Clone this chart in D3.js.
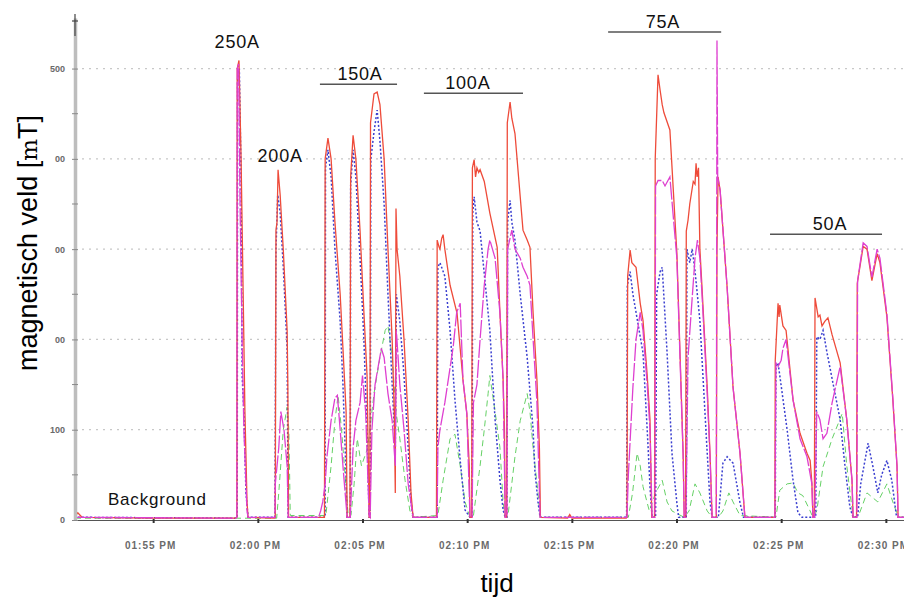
<html>
<head>
<script src="https://d3js.org/d3.v7.min.js"></script>
<style>
  body { margin: 0; background: #fff; }
  text { font-family: Arial, "Liberation Sans", sans-serif; }
  .tick text { fill: #6a6a6a; font-weight: bold; }
</style>
</head>
<body>
<svg width="904" height="600"></svg>
<script>
// time in minutes after 13:00, field in mT
var yTicks = [0, 100, 200, 300, 400, 500];
var yTickLabels = ["0", "100", "00", "00", "00", "500"];

var red = [
[51.27,4],[51.4,8],[51.6,3],[55,2],[58.9,2],
[59.0,3],[59.02,500],[59.10,509],[59.20,400],[59.30,250],[59.39,120],[59.49,20],[59.53,3],
[60.8,2],
[60.84,3],[60.86,321],[60.92,330],[60.97,388],[61.06,360],[61.21,299],[61.40,210],[61.44,150],[61.46,3],
[63.19,3],
[63.22,400],[63.35,423],[63.50,400],[63.69,330],[63.93,250],[64.07,190],[64.21,120],[64.26,3],
[64.40,3],[64.43,380],[64.55,426],[64.69,400],[64.88,320],[65.07,230],[65.22,160],[65.31,3],
[65.35,3],[65.38,440],[65.55,472],[65.70,474],[65.84,460],[66.03,400],[66.22,300],[66.41,200],[66.51,120],[66.56,30],
[66.60,345],[66.65,300],[66.79,270],[66.98,200],[67.18,110],[67.32,30],[67.41,3],
[68.54,3],
[68.57,310],[68.65,303],[68.70,300],[68.78,312],[68.85,316],[68.94,300],[69.18,260],[69.52,229],[69.80,155],[69.99,118],[70.10,60],[70.14,3],
[70.22,3],[70.25,390],[70.33,399],[70.40,380],[70.47,390],[70.55,385],[70.61,388],[70.81,375],[71.09,340],[71.43,302],[71.57,229],[71.71,155],[71.79,100],[71.81,3],
[71.88,3],[71.92,440],[72.05,463],[72.14,445],[72.29,428],[72.53,358],[72.67,321],[72.86,310],[73.00,302],[73.15,229],[73.34,155],[73.45,80],[73.50,3],
[74.8,2],[74.9,6],[75.0,2],
[77.6,2],
[77.64,3],[77.66,270],[77.78,299],[77.87,285],[78.07,280],[78.26,240],[78.40,221],[78.60,160],[78.73,111],[78.82,3],
[78.95,3],[78.98,400],[79.11,493],[79.21,476],[79.31,460],[79.40,451],[79.69,432],[80.02,296],[80.17,185],[80.31,74],[80.36,3],
[80.44,3],[80.47,320],[80.55,332],[80.64,350],[80.80,375],[80.88,372],[80.94,395],[80.98,380],[81.05,390],[81.12,300],[81.22,258],[81.46,147],[81.60,74],[81.70,3],
[81.90,3],[81.93,300],[81.98,380],[82.08,365],[82.41,258],[82.70,147],[83.03,74],[83.27,3],
[84.68,3],
[84.70,3],[84.72,177],[84.85,240],[84.90,225],[84.94,238],[85.09,215],[85.23,210],[85.56,133],[85.90,96],[86.23,74],[86.38,66],[86.47,41],[86.52,3],
[86.58,3],[86.61,246],[86.76,225],[86.85,227],[86.95,215],[87.09,220],[87.24,224],[87.43,205],[87.81,174],[88.14,111],[88.38,44],[88.43,3],
[88.60,3],[88.64,262],[88.91,303],[89.10,300],[89.34,265],[89.58,295],[89.72,285],[90.05,225],[90.34,133],[90.53,59],[90.58,3],
[90.9,3]
];

var blue = [
[51.27,6],[51.4,3],[58.9,2],
[59.01,3],[59.03,490],[59.12,500],[59.20,380],[59.25,160],[59.34,120],[59.44,30],[59.53,3],
[60.82,3],[60.86,300],[60.95,360],[61.06,340],[61.21,280],[61.40,190],[61.45,3],
[63.21,3],[63.24,390],[63.35,410],[63.50,380],[63.69,300],[63.93,220],[64.07,150],[64.20,60],[64.26,3],
[64.41,3],[64.44,370],[64.55,410],[64.69,380],[64.88,290],[65.07,200],[65.22,100],[65.31,3],
[65.36,3],[65.40,400],[65.55,430],[65.70,454],[65.84,420],[66.03,350],[66.22,250],[66.41,150],[66.56,80],
[66.62,250],[66.79,220],[66.98,160],[67.18,80],[67.32,20],[67.41,3],
[68.56,3],[68.60,280],[68.70,285],[68.94,270],[69.18,210],[69.42,133],[69.66,66],[69.90,11],[70.14,3],
[70.23,3],[70.26,340],[70.33,358],[70.47,330],[70.61,320],[71.09,210],[71.33,111],[71.57,44],[71.71,11],[71.81,3],
[71.90,3],[71.94,330],[72.05,354],[72.14,330],[72.29,310],[72.53,250],[72.86,180],[73.15,100],[73.24,55],[73.39,20],[73.48,3],
[77.62,3],[77.65,260],[77.78,275],[77.92,250],[78.07,230],[78.40,185],[78.60,100],[78.73,37],[78.83,3],
[79.00,3],[79.05,250],[79.21,275],[79.31,280],[79.55,185],[79.78,74],[80.02,19],[80.10,3],
[80.47,3],[80.50,300],[80.64,285],[80.75,300],[80.88,276],[81.12,221],[81.46,74],[81.60,20],[81.70,3],
[82.00,3],[82.22,63],[82.41,70],[82.70,63],[83.03,19],[83.20,3],
[84.72,3],[84.75,170],[84.85,174],[84.94,160],[85.28,100],[85.56,44],[85.80,8],[86.0,3],
[86.65,3],[86.70,203],[86.85,200],[87.00,210],[87.19,186],[87.81,111],[88.05,59],[88.29,14],[88.43,3],
[88.65,3],[88.80,40],[89.15,85],[89.39,59],[89.62,30],[89.80,50],[90.05,66],[90.29,44],[90.50,5],[90.6,3],[90.9,3]
];

var magenta = [
[51.27,3],[58.95,2],
[59.00,3],[59.01,500],[59.08,505],[59.15,350],[59.25,200],[59.34,100],[59.49,10],[59.53,3],
[60.82,3],[60.84,40],[60.92,60],[61.00,80],[61.10,120],[61.25,100],[61.40,60],[61.45,3],
[62.9,3],[63.0,10],[63.10,20],[63.21,40],[63.30,70],[63.50,110],[63.69,135],[63.80,138],[63.93,100],[64.10,50],[64.26,3],
[64.41,3],[64.55,80],[64.69,110],[64.88,130],[65.00,160],[65.15,120],[65.31,5],
[65.36,3],[65.45,100],[65.60,150],[65.75,170],[65.90,190],[66.03,180],[66.22,140],[66.41,110],[66.56,60],[66.62,210],[66.79,150],[66.98,100],[67.18,40],[67.41,3],
[68.56,3],[68.60,80],[68.70,100],[68.94,130],[69.33,192],[69.50,230],[69.66,240],[69.80,155],[69.99,118],[70.14,3],
[70.23,3],[70.30,130],[70.47,150],[70.61,200],[70.81,260],[71.00,300],[71.09,310],[71.33,290],[71.57,229],[71.71,155],[71.81,3],
[71.90,3],[71.94,300],[72.14,321],[72.29,300],[72.53,290],[72.67,280],[72.86,270],[73.00,260],[73.15,200],[73.34,130],[73.48,3],
[77.64,3],[77.70,50],[77.92,147],[78.07,200],[78.26,230],[78.40,210],[78.60,150],[78.73,100],[78.83,3],
[78.97,3],[79.00,370],[79.11,376],[79.31,376],[79.45,370],[79.69,380],[80.02,290],[80.17,180],[80.31,70],[80.36,3],
[80.45,3],[80.55,180],[80.70,230],[80.88,290],[81.00,310],[81.12,290],[81.22,250],[81.46,140],[81.60,70],[81.70,3],
[81.90,3],[81.93,531],[81.97,380],[82.08,365],[82.41,258],[82.70,147],[83.03,74],[83.27,3],
[84.70,3],[84.75,174],[84.85,170],[85.00,177],[85.09,190],[85.23,200],[85.56,133],[85.90,90],[86.23,70],[86.47,40],[86.52,3],
[86.60,3],[86.70,120],[86.85,111],[87.00,90],[87.19,96],[87.43,130],[87.81,170],[88.14,111],[88.38,44],[88.43,3],
[88.62,3],[88.65,265],[88.91,307],[89.10,303],[89.34,269],[89.58,300],[89.72,290],[90.05,228],[90.34,135],[90.53,60],[90.58,3],
[90.9,3]
];

var green = [
[51.27,2],[60.9,2],[61.0,30],[61.21,100],[61.40,125],[61.49,100],[61.55,5],
[63.25,5],[63.50,60],[63.69,110],[63.83,138],[64.00,100],[64.20,40],[64.31,5],
[64.45,5],[64.60,40],[64.75,90],[64.95,60],[65.10,70],[65.25,80],[65.35,100],[65.55,140],[65.84,180],[66.08,210],[66.22,215],[66.41,180],[66.60,120],[66.79,90],[67.03,44],[67.27,10],[67.41,3],
[68.60,5],[68.85,44],[69.18,90],[69.42,95],[69.66,60],[69.90,20],[70.14,3],
[70.30,5],[70.61,60],[70.81,100],[71.00,140],[71.09,160],[71.33,120],[71.57,80],[71.71,20],[71.81,3],
[71.95,5],[72.29,70],[72.53,110],[72.86,140],[73.00,120],[73.15,80],[73.39,30],[73.48,3],
[77.7,3],[77.90,30],[78.11,74],[78.26,60],[78.40,37],[78.70,10],[79.0,30],[79.31,44],[79.55,20],[79.78,10],[80.36,3],[80.60,10],[80.88,40],[81.12,30],[81.46,10],[81.70,3],
[82.0,3],[82.22,10],[82.50,30],[82.70,20],[83.03,5],
[84.75,3],[84.94,33],[85.28,40],[85.56,41],[85.80,30],[86.04,27],[86.38,10],[86.52,3],
[86.70,10],[87.00,59],[87.43,90],[87.91,118],[88.14,60],[88.43,3],
[88.70,5],[89.10,30],[89.62,20],[90.05,40],[90.34,20],[90.6,3],[90.9,3]
];

// current labels: text, minute, value at the text baseline; bar spans minutes
var currentLabels = [
  {text: "250A", t: 59.01, v: 523, bar: null},
  {text: "200A", t: 61.06, v: 396, bar: null},
  {text: "150A", t: 64.88, v: 487, bar: [62.97, 66.65]},
  {text: "100A", t: 70.04, v: 477, bar: [67.94, 72.67]},
  {text: "75A",  t: 79.35, v: 545, bar: [76.73, 82.13]},
  {text: "50A",  t: 87.33, v: 321, bar: [84.47, 89.81]}
];

function toDate(m) { return new Date(2020, 0, 1, 13, 0, Math.round(m * 60)); }

var svg = d3.select("svg");
var plotLeft = 75, plotRight = 904, plotTop = 18, plotBottom = 520;

var x = d3.scaleTime()
  .domain([toDate(51.27), toDate(90.86)])
  .range([plotLeft, plotRight]);

var y = d3.scaleLinear()
  .domain([0, 556])
  .range([plotBottom, plotTop]);

svg.append("defs").append("clipPath").attr("id", "plot")
  .append("rect").attr("x", plotLeft).attr("y", 0)
  .attr("width", plotRight - plotLeft).attr("height", plotBottom + 2);

// grid
svg.append("g").selectAll("line")
  .data(yTicks.slice(1))
  .enter().append("line")
  .attr("x1", plotLeft).attr("x2", plotRight)
  .attr("y1", function(d) { return y(d); })
  .attr("y2", function(d) { return y(d); })
  .attr("stroke", "#c8c8c8")
  .attr("stroke-width", 1.2)
  .attr("stroke-dasharray", "2,5");

var line = d3.line()
  .x(function(d) { return x(toDate(d[0])); })
  .y(function(d) { return y(d[1]); });

var series = [
  {data: green, color: "#66d166", dash: "6,4", w: 1},
  {data: blue, color: "#3a3fd0", dash: "2,2", w: 1.5},
  {data: red, color: "#ee4b3a", dash: null, w: 1.3},
  {data: magenta, color: "#de3fd0", dash: "18,2", w: 1.3}
];

var lines = svg.append("g").attr("clip-path", "url(#plot)");
series.forEach(function(s) {
  lines.append("path")
    .datum(s.data)
    .attr("d", line)
    .attr("fill", "none")
    .attr("stroke", s.color)
    .attr("stroke-width", s.w)
    .attr("stroke-dasharray", s.dash);
});

// x axis
var xAxis = svg.append("g")
  .attr("transform", "translate(0," + plotBottom + ")")
  .call(d3.axisBottom(x)
    .ticks(d3.timeMinute.every(5))
    .tickFormat(d3.timeFormat("%I:%M %p"))
    .tickSize(3)
    .tickSizeOuter(0)
    .tickPadding(19));
xAxis.select(".domain").attr("stroke", "#555").attr("stroke-width", 1.2);
xAxis.selectAll(".tick line").attr("stroke", "#333").attr("stroke-width", 2).attr("y1", -1);
xAxis.selectAll(".tick text").attr("font-size", 10).attr("dx", -3).style("letter-spacing", "1px");

// y axis
var yAxis = svg.append("g")
  .attr("transform", "translate(" + plotLeft + ",0)")
  .call(d3.axisLeft(y)
    .tickValues(yTicks)
    .tickFormat(function(d, i) { return yTickLabels[i]; })
    .tickSize(3)
    .tickSizeOuter(0)
    .tickPadding(7));
yAxis.select(".domain").attr("stroke", "#bdbdbd").attr("stroke-width", 3.5);
yAxis.selectAll(".tick line").attr("stroke", "#888").attr("x2", 3).attr("x1", -3);
yAxis.selectAll(".tick text").attr("font-size", 9).attr("fill", "#777");

// minor ticks at 50s
svg.append("g").selectAll("line")
  .data([50, 150, 250, 350, 450])
  .enter().append("line")
  .attr("x1", plotLeft - 3).attr("x2", plotLeft + 3)
  .attr("y1", function(d) { return y(d); })
  .attr("y2", function(d) { return y(d); })
  .attr("stroke", "#888");

// dark top end of the y axis with cross
svg.append("line").attr("x1", plotLeft).attr("x2", plotLeft).attr("y1", 14).attr("y2", 36)
  .attr("stroke", "#444").attr("stroke-width", 1.2);
svg.append("line").attr("x1", plotLeft - 3).attr("x2", plotLeft + 3).attr("y1", 21).attr("y2", 21)
  .attr("stroke", "#444").attr("stroke-width", 1.2);

// labels of the currents
var lab = svg.append("g");
currentLabels.forEach(function(c) {
  lab.append("text")
    .attr("x", x(toDate(c.t)))
    .attr("y", y(c.v))
    .attr("text-anchor", "middle")
    .attr("font-size", 18)
    .style("letter-spacing", "0.8px")
    .attr("fill", "#111")
    .text(c.text);
  if (c.bar) {
    lab.append("line")
      .attr("x1", x(toDate(c.bar[0])))
      .attr("x2", x(toDate(c.bar[1])))
      .attr("y1", y(c.v) + 4)
      .attr("y2", y(c.v) + 4)
      .attr("stroke", "#555")
      .attr("stroke-width", 1.5);
  }
});

svg.append("text")
  .attr("x", x(toDate(55.2)))
  .attr("y", y(17))
  .attr("text-anchor", "middle")
  .attr("font-size", 17)
  .style("letter-spacing", "0.8px")
  .attr("fill", "#111")
  .text("Background");

// axis titles
var yTitle = svg.append("text")
  .attr("transform", "translate(37,243) rotate(-90)")
  .attr("text-anchor", "middle")
  .attr("font-size", 27)
  .attr("fill", "#000");
yTitle.append("tspan").text("magnetisch veld [");
yTitle.append("tspan").attr("font-family", "'DejaVu Serif', serif").attr("font-size", 23).text("m");
yTitle.append("tspan").text("T]");

svg.append("text")
  .attr("x", 497)
  .attr("y", 592)
  .attr("text-anchor", "middle")
  .attr("font-size", 26)
  .attr("fill", "#000")
  .text("tijd");
</script>
</body>
</html>
